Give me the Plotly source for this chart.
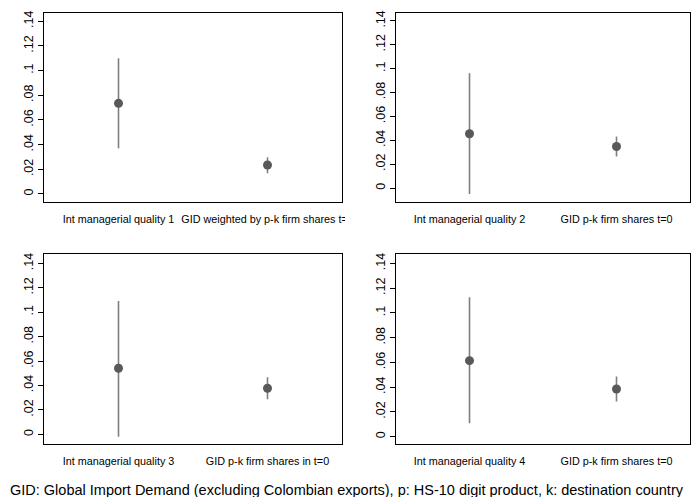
import plotly.graph_objects as go

# Data
labels_1 = ["Int managerial quality 1", "GID weighted by p-k firm shares t=0"]
labels_2 = ["Int managerial quality 2", "GID p-k firm shares t=0"]
labels_3 = ["Int managerial quality 3", "GID p-k firm shares in t=0"]
labels_4 = ["Int managerial quality 4", "GID p-k firm shares t=0"]

est_1 = [0.0734, 0.0235]
lo_1 = [0.0370, 0.0168]
hi_1 = [0.1099, 0.0297]

est_2 = [0.0454, 0.0348]
lo_2 = [-0.0050, 0.0264]
hi_2 = [0.0961, 0.0431]

est_3 = [0.0541, 0.0377]
lo_3 = [-0.0020, 0.0287]
hi_3 = [0.1092, 0.0467]

est_4 = [0.0614, 0.0385]
lo_4 = [0.0108, 0.0283]
hi_4 = [0.1126, 0.0485]

ytick_vals = [0, 0.02, 0.04, 0.06, 0.08, 0.10, 0.12, 0.14]
ytick_text = ["0", ".02", ".04", ".06", ".08", ".1", ".12", ".14"]

caption = "GID: Global Import Demand (excluding Colombian exports), p: HS-10 digit product, k: destination country"

panels = [
    (labels_1, est_1, lo_1, hi_1, [-0.0065, 0.1466]),
    (labels_2, est_2, lo_2, hi_2, [-0.0117, 0.1465]),
    (labels_3, est_3, lo_3, hi_3, [-0.0082, 0.1474]),
    (labels_4, est_4, lo_4, hi_4, [-0.0062, 0.1473]),
]

W, H = 691, 497
xdoms = [[44 / W, 342 / W], [396 / W, 690 / W]]
ydoms = [[1 - 202 / H, 1 - 13 / H], [1 - 444.3 / H, 1 - 254.3 / H]]

fig = go.Figure()
layout = {}
for i, (labs, est, lo, hi, yr) in enumerate(panels):
    n = i + 1
    xa = "x" if n == 1 else f"x{n}"
    ya = "y" if n == 1 else f"y{n}"
    xpos = [0.5, 1.5]
    fig.add_trace(go.Scatter(
        x=xpos, y=est, mode="markers", xaxis=xa, yaxis=ya,
        marker=dict(size=9, color="#595959"),
        error_y=dict(type="data", symmetric=False,
                     array=[h - e for h, e in zip(hi, est)],
                     arrayminus=[e - l for e, l in zip(est, lo)],
                     width=0, thickness=1.6, color="#7f7f7f"),
        showlegend=False,
    ))
    row = i // 2
    col = i % 2
    xkey = "xaxis" if n == 1 else f"xaxis{n}"
    ykey = "yaxis" if n == 1 else f"yaxis{n}"
    layout[xkey] = dict(
        domain=xdoms[col], anchor=ya, range=[0, 2], automargin=False,
        tickvals=xpos, ticktext=labs, showgrid=False, zeroline=False,
        showline=True, linecolor="black", linewidth=1, mirror=True,
        ticks="outside", ticklen=7, tickcolor="rgba(0,0,0,0)",
        tickfont=dict(family="Liberation Sans, Arial", size=10.8, color="black"),
    )
    layout[ykey] = dict(
        domain=ydoms[row], anchor=xa, range=yr, automargin=False,
        tickvals=ytick_vals, ticktext=ytick_text, tickangle=-90,
        showgrid=False, zeroline=False,
        showline=True, linecolor="black", linewidth=1, mirror=True,
        ticks="outside", ticklen=5, tickcolor="black",
        tickfont=dict(family="Liberation Sans, Arial", size=12.5, color="black"),
    )

fig.update_layout(
    template="none",
    width=W, height=H, margin=dict(l=0, r=0, t=0, b=0, pad=0),
    paper_bgcolor="white", plot_bgcolor="white",
    **layout,
)
# the first panel's long label is clipped at its cell edge in the original
fig.add_shape(
    type="rect", xref="paper", yref="paper", layer="above",
    x0=345 / W, x1=365 / W, y0=1 - 226 / H, y1=1 - 207 / H,
    fillcolor="white", line=dict(width=0),
)
fig.add_annotation(
    text=caption, xref="paper", yref="paper", x=8 / W, y=1 - 490 / H,
    xanchor="left", yanchor="middle", showarrow=False,
    font=dict(family="Liberation Sans, Arial", size=14.5, color="black"),
)
fig.write_html("out.html")
